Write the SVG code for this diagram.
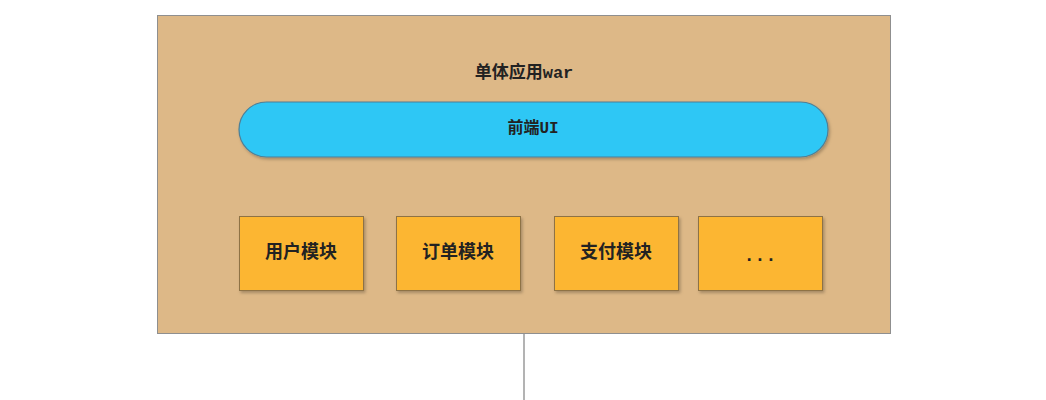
<svg xmlns="http://www.w3.org/2000/svg" width="1046" height="400" viewBox="0 0 1046 400">
<defs>
<filter id="sh" x="-10%" y="-10%" width="130%" height="140%"><feDropShadow dx="1.5" dy="2" stdDeviation="1.5" flood-color="#000" flood-opacity="0.25"/></filter>
</defs>
<style>
.t{font-family:"Liberation Mono","Noto Sans CJK SC",monospace;font-weight:bold;fill:#222;text-anchor:middle;dominant-baseline:central}
.mod{fill:#FCB630;stroke:#8E7245;stroke-width:1;filter:url(#sh)}
</style>
<rect width="1046" height="400" fill="#fff"/>
<g id="connectors">
<line x1="524" y1="334" x2="524" y2="400" stroke="#9a9a9a" stroke-width="1.5"/>
</g>
<g id="app">
<rect x="157.5" y="15.5" width="733" height="318" fill="#DDB887" stroke="#8f8f8f" stroke-width="1"/>
<text class="t" x="524" y="73" font-size="17">单体应用war</text>
</g>
<g id="ui">
<rect x="239" y="102" width="589" height="55" rx="27.5" fill="#2EC7F5" stroke="#4F7F96" stroke-width="1.2" filter="url(#sh)"/>
<text class="t" x="533" y="129" font-size="16">前端UI</text>
</g>
<g id="user">
<rect class="mod" x="239.5" y="216.5" width="124" height="74"/>
<text class="t" x="301" y="253" font-size="18">用户模块</text>
</g>
<g id="order">
<rect class="mod" x="396.5" y="216.5" width="124" height="74"/>
<text class="t" x="458" y="253" font-size="18">订单模块</text>
</g>
<g id="pay">
<rect class="mod" x="554.5" y="216.5" width="124" height="74"/>
<text class="t" x="616" y="253" font-size="18">支付模块</text>
</g>
<g id="more">
<rect class="mod" x="698.5" y="216.5" width="124" height="74"/>
<text class="t" x="760" y="256" font-size="18">...</text>
</g>
</svg>
